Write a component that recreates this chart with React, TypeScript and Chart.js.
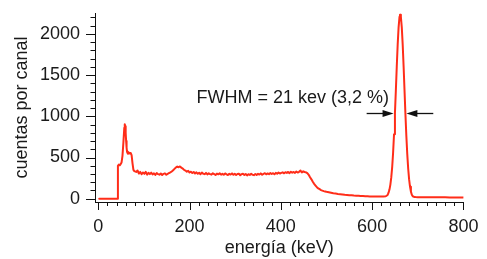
import React, { useEffect, useRef } from "react";
import { Chart, registerables } from "chart.js";

Chart.register(...registerables);

// ---- data ----
const energy = [
  2, 10, 20, 30, 40, 42, 43, 45, 47, 49, 51, 53, 55, 57, 58, 59, 60, 61, 62, 63,
  65, 67, 69, 71, 73, 75, 77, 79, 83, 86, 89, 92, 95, 98, 101, 104, 107, 110, 113, 116,
  119, 122, 125, 128, 131, 134, 137, 140, 143, 146, 149, 152, 155, 158, 161, 164, 167, 170, 173, 176,
  179, 182, 185, 188, 191, 194, 197, 200, 203, 206, 209, 212, 215, 218, 221, 224, 227, 230, 233, 236,
  239, 242, 245, 248, 251, 254, 257, 260, 263, 266, 269, 272, 275, 278, 281, 284, 287, 290, 293, 296,
  299, 302, 305, 308, 311, 314, 317, 320, 323, 326, 329, 332, 335, 338, 341, 344, 347, 350, 353, 356,
  359, 362, 365, 368, 371, 374, 377, 380, 383, 386, 389, 392, 395, 398, 401, 404, 407, 410, 413, 416,
  419, 422, 425, 428, 431, 434, 437, 440, 443, 446, 449, 452, 455, 458, 461, 464, 467, 470, 473, 476,
  479, 482, 485, 488, 491, 494, 497, 500, 505, 510, 515, 520, 525, 530, 535, 540, 545, 550, 555, 560,
  565, 570, 575, 580, 585, 590, 595, 600, 605, 610, 615, 620, 625, 630,
  634, 636, 638, 640, 642, 644, 646, 648, 650, 652, 654, 656, 658, 660, 661, 662, 663, 665, 667, 669,
  671, 673, 675, 677, 679, 681, 683, 685, 687, 689, 692, 695,
  700, 710, 720, 730, 740, 750, 760, 770, 780, 790, 800,
];
const counts = [
  0, 0, 0, 0, 0, 0, 400, 415, 405, 420, 440, 520, 680, 860, 905, 880, 800, 700, 620, 570,
  545, 560, 550, 555, 530, 430, 350, 335, 325, 342, 305, 325, 298, 318, 302, 325, 292, 314, 298, 316,
  294, 308, 288, 312, 298, 292, 306, 287, 302, 308, 290, 302, 312, 320, 330, 345, 362, 378, 390, 382,
  392, 376, 366, 350, 342, 328, 338, 318, 328, 312, 325, 306, 320, 302, 315, 297, 318, 302, 298, 313,
  295, 308, 298, 292, 308, 298, 288, 305, 296, 308, 292, 302, 290, 307, 296, 288, 302, 293, 307, 290,
  302, 287, 300, 304, 285, 298, 302, 288, 300, 283, 297, 288, 302, 290, 286, 300, 288, 302, 293, 307,
  290, 302, 310, 296, 307, 298, 312, 300, 310, 296, 314, 303, 317, 306, 314, 320, 308, 322, 313, 325,
  310, 327, 316, 324, 313, 330, 318, 327, 342, 320, 332, 324, 320, 310, 290, 260, 235, 205, 180, 160,
  140, 125, 115, 105, 98, 92, 88, 84, 78, 72, 66, 62, 58, 55, 52, 48, 46, 43, 41, 38,
  36, 35, 33, 32, 30, 30, 28, 28, 27, 26, 27, 27, 28, 30,
  45, 73, 111, 171, 261, 387, 561, 782, 1039, 1313, 1604, 1870, 2080, 2207, 2233, 2233, 2207, 2080, 1870, 1604,
  1313, 1024, 762, 541, 367, 237, 146, 86, 48, 30, 22, 20,
  19, 19, 18, 18, 18, 17, 17, 16, 16, 16, 15,
];

const xTickValues = [0, 200, 400, 600, 800];
const yTickValues = [0, 500, 1000, 1500, 2000];
const xTitle = "energía (keV)";
const yTitle = "cuentas por canal";
const annotationText = "FWHM = 21 kev (3,2 %)";
const annotationAt = [215, 1167];
const arrowY = 1038;
const arrowLeft = [588, 647];
const arrowRight = [734, 675];

const FONT = "'Liberation Sans', Arial, Helvetica, sans-serif";
const FS = 18;
const TEXT = "#1a1a1a";
const LINE = "rgb(255, 45, 25)";

const decorPlugin = {
  id: "decor",
  beforeDatasetsDraw(chart: any) {
    const { ctx, chartArea } = chart;
    const xs = chart.scales.x;
    const ys = chart.scales.y;
    ctx.save();
    ctx.strokeStyle = "#111";
    ctx.lineWidth = 1;
    ctx.beginPath();
    for (let v = 0; v <= 800; v += 20) {
      const px = Math.round(xs.getPixelForValue(v)) + 0.5;
      const len = v % 200 === 0 ? 8 : 4;
      ctx.moveTo(px, chartArea.bottom);
      ctx.lineTo(px, chartArea.bottom + len);
    }
    for (let v = 0; v <= 2200; v += 100) {
      const py = Math.round(ys.getPixelForValue(v)) + 0.5;
      const len = v % 500 === 0 ? 9 : 4.5;
      ctx.moveTo(chartArea.left, py);
      ctx.lineTo(chartArea.left - len, py);
    }
    ctx.stroke();
    ctx.restore();
  },
  afterDraw(chart: any) {
    const { ctx } = chart;
    const xs = chart.scales.x;
    const ys = chart.scales.y;
    ctx.save();
    ctx.fillStyle = TEXT;
    ctx.font = `${FS}px ${FONT}`;
    ctx.textAlign = "left";
    ctx.textBaseline = "alphabetic";
    ctx.fillText(annotationText, xs.getPixelForValue(annotationAt[0]), ys.getPixelForValue(annotationAt[1]));

    const ay = Math.round(ys.getPixelForValue(arrowY)) + 0.5;
    const drawArrow = (from: number, to: number) => {
      const x0 = xs.getPixelForValue(from);
      const x1 = xs.getPixelForValue(to);
      const dir = Math.sign(x1 - x0);
      ctx.strokeStyle = "#111";
      ctx.lineWidth = 1.3;
      ctx.beginPath();
      ctx.moveTo(x0, ay);
      ctx.lineTo(x1 - dir * 6, ay);
      ctx.stroke();
      ctx.fillStyle = "#111";
      ctx.beginPath();
      ctx.moveTo(x1, ay);
      ctx.lineTo(x1 - dir * 11, ay - 3.5);
      ctx.lineTo(x1 - dir * 11, ay + 3.5);
      ctx.closePath();
      ctx.fill();
    };
    drawArrow(arrowLeft[0], arrowLeft[1]);
    drawArrow(arrowRight[0], arrowRight[1]);
    ctx.restore();
  },
};

const zeroPadding = (s: any) => {
  s.paddingTop = 0;
  s.paddingBottom = 0;
  s.paddingLeft = 0;
  s.paddingRight = 0;
};

export default function App() {
  const ref = useRef<HTMLCanvasElement | null>(null);
  useEffect(() => {
    if (!ref.current) return;
    Chart.defaults.font.family = FONT;
    const points = energy.map((e, i) => ({ x: e, y: counts[i] }));
    const chart = new Chart(ref.current, {
      type: "scatter",
      data: {
        datasets: [
          {
            data: points,
            showLine: true,
            borderColor: LINE,
            borderWidth: 2,
            borderJoinStyle: "round",
            borderCapStyle: "round",
            pointRadius: 0,
            tension: 0,
          },
        ],
      },
      options: {
        animation: false,
        responsive: false,
        events: [],
        layout: { padding: { top: 13, right: 23.6, left: 0, bottom: 0 } },
        plugins: { legend: { display: false }, tooltip: { enabled: false } },
        scales: {
          x: {
            type: "linear",
            min: -7.2,
            max: 800,
            afterBuildTicks: (s: any) => {
              s.ticks = xTickValues.map((v) => ({ value: v }));
            },
            afterFit: (s: any) => {
              s.height = 57;
              zeroPadding(s);
            },
            grid: { display: false, drawTicks: false },
            border: { display: true, color: "#111", width: 1 },
            ticks: {
              color: TEXT,
              font: { size: FS },
              padding: 14,
              maxRotation: 0,
              autoSkip: false,
              callback: (v: any) => String(v),
            },
            title: {
              display: true,
              text: xTitle,
              color: TEXT,
              font: { size: FS },
              padding: { top: 0, bottom: 0 },
            },
          },
          y: {
            type: "linear",
            min: -40,
            max: 2254,
            afterBuildTicks: (s: any) => {
              s.ticks = yTickValues.map((v) => ({ value: v }));
            },
            afterFit: (s: any) => {
              s.width = 95;
              zeroPadding(s);
            },
            grid: { display: false, drawTicks: false },
            border: { display: true, color: "#111", width: 1 },
            ticks: {
              color: TEXT,
              font: { size: FS },
              padding: 15,
              autoSkip: false,
              callback: (v: any) => String(v),
            },
            title: {
              display: true,
              text: yTitle,
              color: TEXT,
              font: { size: FS },
              padding: { top: 11, bottom: 0 },
            },
          },
        },
      },
      plugins: [decorPlugin],
    });
    return () => chart.destroy();
  }, []);
  return (
    <div style={{ position: "absolute", left: 0, top: 0, width: 487, height: 259 }}>
      <canvas ref={ref} width={487} height={259} style={{ width: 487, height: 259 }} />
    </div>
  );
}
